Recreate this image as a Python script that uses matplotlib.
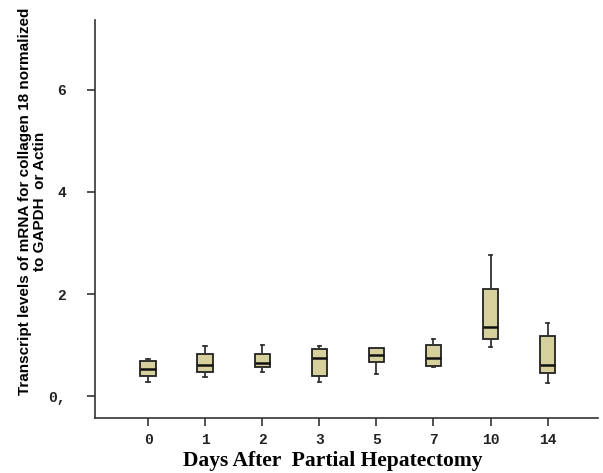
import matplotlib
matplotlib.use('Agg')
import matplotlib.pyplot as plt

# days after partial hepatectomy (categories)
days = ['0', '1', '2', '3', '5', '7', '10', '14']

# box statistics
whislo = [0.27, 0.37, 0.48, 0.28, 0.44, 0.57, 0.97, 0.26]
q1     = [0.39, 0.47, 0.56, 0.39, 0.67, 0.59, 1.11, 0.46]
med    = [0.53, 0.60, 0.64, 0.75, 0.81, 0.75, 1.35, 0.61]
q3     = [0.69, 0.82, 0.83, 0.93, 0.95, 1.01, 2.10, 1.17]
whishi = [0.72, 0.98, 1.01, 0.99, 0.95, 1.12, 2.76, 1.44]

ytick_vals = [0, 2, 4, 6]
ytick_labels = ['0,', '2', '4', '6']

stats = []
for i in range(len(days)):
    stats.append(dict(label=days[i], whislo=whislo[i], q1=q1[i], med=med[i],
                      q3=q3[i], whishi=whishi[i], fliers=[]))

fig = plt.figure(figsize=(6.03, 4.73), dpi=100)
ax = fig.add_axes([0.1575, 0.1163, 0.834, 0.8414])

bp = ax.bxp(stats, positions=range(len(days)), widths=0.27, patch_artist=True,
            showfliers=False,
            boxprops=dict(facecolor='#d6d09c', edgecolor='#222222', linewidth=1.3),
            medianprops=dict(color='#111111', linewidth=1.8),
            whiskerprops=dict(color='#333333', linewidth=1.3),
            capprops=dict(color='#333333', linewidth=1.3), capwidths=0.06)

ax.set_xlim(-0.93, 7.88)
ax.set_ylim(-0.43, 7.37)
ax.set_yticks(ytick_vals)
ax.set_yticklabels(ytick_labels)
ax.set_xticks(range(len(days)))
ax.set_xticklabels(days)

for lab in ax.get_xticklabels() + ax.get_yticklabels():
    lab.set_family('Liberation Mono')
    lab.set_fontsize(10.5)
    lab.set_fontweight('bold')
    lab.set_color('#222222')

ax.spines['top'].set_visible(False)
ax.spines['right'].set_visible(False)
ax.spines['left'].set_color('#333333')
ax.spines['bottom'].set_color('#333333')
ax.spines['left'].set_linewidth(1.2)
ax.spines['bottom'].set_linewidth(1.2)
ax.tick_params(axis='both', direction='out', length=6, width=1.2, color='#333333')
ax.tick_params(axis='x', pad=5)
ax.tick_params(axis='y', pad=15)

fig.text(0.551, 0.026, 'Days After  Partial Hepatectomy', ha='center', va='center',
         family='Liberation Serif', fontweight='bold', fontsize=15.5)
fig.text(0.054, 0.575, 'Transcript levels of mRNA for collagen 18 normalized\nto GAPDH  or Actin',
         rotation=90, ha='center', va='center', multialignment='center',
         family='Liberation Sans', fontweight='bold', fontsize=11, linespacing=1.05)

fig.savefig('out.png', dpi=100)
